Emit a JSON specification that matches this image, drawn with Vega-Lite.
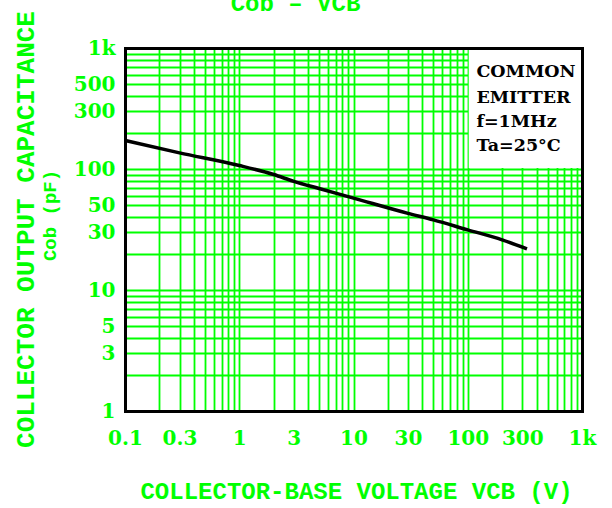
{
  "$schema": "https://vega.github.io/schema/vega-lite/v6.json",
  "autosize": {"type": "none"},
  "padding": {"left": 125, "top": 48, "right": 30, "bottom": 97},
  "width": 457,
  "height": 363,
  "background": "white",
  "config": {
    "view": {"stroke": null},
    "axis": {"gridOpacity": 1, "domainOpacity": 1}
  },
  "resolve": {"axis": {"x": "independent", "y": "independent"}},
  "layer": [
    {
      "data": {"values": [{"x1": 102, "x2": 1000, "y1": 102, "y2": 1000}]},
      "mark": {"type": "rect", "fill": "white", "stroke": null},
      "encoding": {
        "x": {
          "field": "x1", "type": "quantitative",
          "scale": {"type": "log", "domain": [0.1, 1000], "nice": false},
          "axis": {
            "orient": "bottom",
            "values": [0.1,0.2,0.3,0.4,0.5,0.6,0.7,0.8,0.9,1,2,3,4,5,6,7,8,9,10,20,30,40,50,60,70,80,90,100,200,300,400,500,600,700,800,900,1000],
            "grid": true, "gridColor": "#00ff00", "gridWidth": 1.8,
            "domain": true, "domainColor": "black", "domainWidth": 3, "domainCap": "square",
            "ticks": false,
            "labelExpr": "datum.value==1000?'1k':(indexof([0.1,0.3,1,3,10,30,100,300],datum.value)>=0?''+datum.value:'')",
            "labelFont": "DejaVu Serif", "labelFontWeight": "bold", "labelFontSize": 20,
            "labelColor": "#00ff00", "labelPadding": 17, "labelOverlap": false, "labelBound": false, "labelFlush": false,
            "title": "COLLECTOR-BASE VOLTAGE VCB (V)",
            "titleFont": "Liberation Mono", "titleFontSize": 24, "titleFontWeight": "bold", "titleColor": "#00ff00",
            "titleX": 231, "titleY": 87, "titleBaseline": "alphabetic", "titleAlign": "center",
            "zindex": 0
          }
        },
        "x2": {"field": "x2"},
        "y": {
          "field": "y1", "type": "quantitative",
          "scale": {"type": "log", "domain": [1, 1000], "nice": false},
          "axis": {
            "orient": "left",
            "values": [1,2,3,4,5,6,7,8,9,10,20,30,40,50,60,70,80,90,100,200,300,400,500,600,700,800,900,1000],
            "grid": true, "gridColor": "#00ff00", "gridWidth": 1.8,
            "domain": true, "domainColor": "black", "domainWidth": 3, "domainCap": "square",
            "ticks": false,
            "labelExpr": "datum.value==1000?'1k':(indexof([1,3,5,10,30,50,100,300,500],datum.value)>=0?''+datum.value:'')",
            "labelFont": "DejaVu Serif", "labelFontWeight": "bold", "labelFontSize": 20,
            "labelColor": "#00ff00", "labelPadding": 10, "labelOverlap": false, "labelBound": false, "labelFlush": false,
            "title": "COLLECTOR OUTPUT CAPACITANCE",
            "titleFont": "Liberation Mono", "titleFontSize": 26, "titleFontWeight": "bold", "titleColor": "#00ff00",
            "titleAngle": -90, "titleX": -92, "titleY": 181, "titleBaseline": "alphabetic", "titleAlign": "center",
            "zindex": 0
          }
        },
        "y2": {"field": "y2"}
      }
    },
    {
      "data": {"values": [
        {"v": 0.1, "c": 172},
        {"v": 0.3, "c": 136},
        {"v": 1, "c": 107},
        {"v": 2, "c": 90},
        {"v": 3, "c": 79},
        {"v": 5, "c": 69},
        {"v": 10, "c": 57.5},
        {"v": 30, "c": 43},
        {"v": 50, "c": 38},
        {"v": 100, "c": 31.4},
        {"v": 200, "c": 26},
        {"v": 330, "c": 21.9}
      ]},
      "mark": {"type": "line", "color": "black", "strokeWidth": 3.5, "interpolate": "monotone"},
      "encoding": {
        "x": {
          "field": "v", "type": "quantitative",
          "scale": {"type": "log", "domain": [0.1, 1000], "nice": false},
          "axis": {"orient": "top", "domain": true, "domainColor": "black", "domainWidth": 3, "domainCap": "square",
                   "ticks": false, "labels": false, "grid": false,
                   "title": "Cob – VCB",
                   "titleFont": "Liberation Mono", "titleFontSize": 24, "titleFontWeight": "bold", "titleColor": "#00ff00",
                   "titleX": 170, "titleY": -38, "titleBaseline": "alphabetic", "titleAlign": "center",
                   "zindex": 1}
        },
        "y": {
          "field": "c", "type": "quantitative",
          "scale": {"type": "log", "domain": [1, 1000], "nice": false},
          "axis": {"orient": "right", "domain": true, "domainColor": "black", "domainWidth": 3, "domainCap": "square",
                   "ticks": false, "labels": false, "grid": false, "title": null, "zindex": 1}
        }
      }
    },
    {
      "data": {"values": [
        {"x": 119, "y": 578, "t": "COMMON"},
        {"x": 119, "y": 352, "t": "EMITTER"},
        {"x": 119, "y": 222, "t": "f=1MHz"},
        {"x": 119, "y": 142, "t": "Ta=25°C"}
      ]},
      "mark": {"type": "text", "align": "left", "baseline": "alphabetic", "font": "DejaVu Serif", "fontWeight": "bold", "fontSize": 17.5, "color": "black"},
      "encoding": {
        "x": {"field": "x", "type": "quantitative", "scale": {"type": "log", "domain": [0.1, 1000], "nice": false}, "axis": null},
        "y": {
          "field": "y", "type": "quantitative",
          "scale": {"type": "log", "domain": [1, 1000], "nice": false},
          "axis": {"orient": "left", "domain": false, "ticks": false, "labels": false, "grid": false,
                   "title": "Cob (pF)",
                   "titleFont": "Liberation Mono", "titleFontSize": 19, "titleFontWeight": "bold", "titleColor": "#00ff00",
                   "titleAngle": -90, "titleX": -70, "titleY": 167, "titleBaseline": "alphabetic", "titleAlign": "center",
                   "zindex": 0}
        },
        "text": {"field": "t"}
      }
    }
  ]
}
